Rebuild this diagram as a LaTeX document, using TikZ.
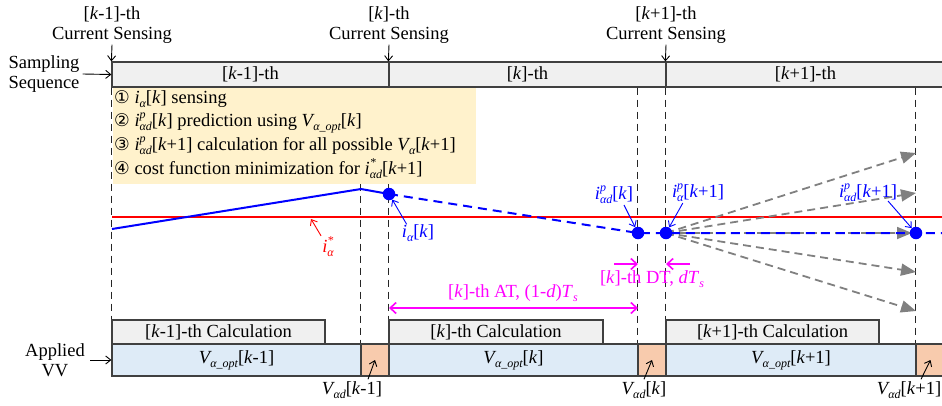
\documentclass[tikz,border=0pt]{standalone}
\usepackage{fontspec}
\setmainfont{Liberation Serif}
\newfontfamily\symfont{DejaVu Sans}
\usetikzlibrary{arrows.meta}
\definecolor{barg}{HTML}{F0F0F0}
\definecolor{yel}{HTML}{FFF2CC}
\definecolor{vvb}{HTML}{DEEBF7}
\definecolor{vvo}{HTML}{F8CBAD}
\definecolor{mag}{HTML}{FF00FF}
\definecolor{edgec}{HTML}{404040}
\definecolor{grayar}{HTML}{808080}
\newcommand\kk{\textit{k}}
\newcommand\smallit{\fontsize{12}{12}\selectfont\itshape}
% base with subscript: \sbs[kern]{base}{sub}
\newcommand\sbs[3][0pt]{\textit{#2}\kern#1\raisebox{-0.22em}{\smallit #3}}
% base with superscript and subscript
\newcommand\ssp[4][0pt]{\textit{#2}\kern#1\rlap{\raisebox{0.42em}{\smallit #3}}\raisebox{-0.22em}{\smallit #4}}
\newcommand\cnum[1]{{\symfont\fontsize{17.5}{17.5}\selectfont #1}}
\tikzset{
  every node/.style={font=\fontsize{18.5}{20}\selectfont, inner sep=1pt},
  sbar/.style={draw=edgec, line width=1.2pt, fill=barg, minimum height=25pt, inner sep=0pt},
  calcbox/.style={draw=edgec, line width=1.2pt, fill=barg, minimum height=24pt, inner sep=0pt},
  vvbox/.style={draw=edgec, line width=1.2pt, fill=vvb, minimum height=32pt, inner sep=0pt},
  adbox/.style={draw=edgec, line width=1.2pt, fill=vvo, minimum height=32pt, minimum width=28pt, inner sep=0pt},
  vdash/.style={dash pattern=on 7pt off 5pt, line width=1.1pt, black!85},
  ptr/.style={-{Straight Barb[length=5pt,width=8pt]}, line width=0.9pt},
  bluelab/.style={text=blue},
  dot/.style={circle, fill=blue, inner sep=0pt, minimum size=12.5pt},
  grayarrow/.style={grayar, line width=1.8pt, dash pattern=on 8pt off 5pt, -{Triangle[length=15pt,width=12pt]}},
  magarrow/.style={mag, line width=1.6pt},
  item/.style={anchor=west, inner sep=0pt},
}
\begin{document}
\begin{tikzpicture}[x=1pt,y=-1pt]
\useasboundingbox (0,0) rectangle (942,405);

% sampling bar
\node[sbar, minimum width=277pt] (s1) at (250.5,74.5) {[\kk-1]-th};
\node[sbar, minimum width=277pt] (s2) at (527.5,74.5) {[\kk]-th};
\node[sbar, minimum width=279pt] (s3) at (805.5,74.5) {[\kk+1]-th};

% calc boxes and VV bar
\node[calcbox, minimum width=213pt] (c1) at (218.5,332) {[\kk-1]-th Calculation};
\node[calcbox, minimum width=214pt] (c2) at (496,332) {[\kk]-th Calculation};
\node[calcbox, minimum width=213pt] (c3) at (772.5,332) {[\kk+1]-th Calculation};
\node[vvbox, minimum width=249pt] (v1) at (236.5,360) {\sbs[-1.5pt]{V}{α\_opt}[\kk-1]};
\node[adbox] (o1) at (375,360) {};
\node[vvbox, minimum width=249pt] (v2) at (513.5,360) {\sbs[-1.5pt]{V}{α\_opt}[\kk]};
\node[adbox] (o2) at (652,360) {};
\node[vvbox, minimum width=250pt] (v3) at (791,360) {\sbs[-1.5pt]{V}{α\_opt}[\kk+1]};
\node[adbox, minimum width=29pt] (o3) at (930.5,360) {};

% dashed verticals
\draw[vdash] (s1.south west) -- (c1.north west);
\draw[vdash] (o1.north west |- s1.south) -- (o1.north west);
\draw[vdash] (s2.south west) -- (c2.north west);
\draw[vdash] (o2.north west |- s2.south) -- (o2.north west);
\draw[vdash] (s3.south west) -- (c3.north west);
\draw[vdash] (o3.north west |- s3.south) -- (o3.north west);

% yellow box
\node[fill=yel, anchor=north west, minimum width=363pt, minimum height=96pt, inner sep=0pt] (ybox) at (112.6,87.6) {};
\node[item] (it1) at (114,99.5) {\cnum{①} \sbs{i}{α}[\kk] sensing};
\node[item] (it2) at (114,123) {\cnum{②} \ssp{i}{p}{αd}[\kk] prediction using \sbs[-1.5pt]{V}{α\_opt}[\kk]};
\node[item] (it3) at (114,146) {\cnum{③} \ssp{i}{p}{αd}[\kk+1] calculation for all possible \sbs[-1.5pt]{V}{α}[\kk+1]};
\node[item] (it4) at (114,169) {\cnum{④} cost function minimization for \ssp{i}{*}{αd}[\kk+1]};

% current sensing labels
\node[align=center] (cs1) at (112,25) {[\kk-1]-th\\Current Sensing};
\node[align=center] (cs2) at (389,25) {[\kk]-th\\Current Sensing};
\node[align=center] (cs3) at (666,25) {[\kk+1]-th\\Current Sensing};
\draw[ptr] (cs1.south) -- (s1.north west);
\draw[ptr] (cs2.south) -- (s2.north west);
\draw[ptr] (cs3.south) -- (s3.north west);

% left labels
\node[align=center] (samp) at (44,74) {Sampling\\Sequence};
\draw[ptr] (samp.east) ++(2,0) -- (s1.west);
\node[align=center] (appl) at (55,360) {Applied\\VV};
\draw[ptr] (appl.east) ++(4,0) -- (v1.west);

% red reference line
\coordinate (r0) at (112,216.5);
\coordinate (r1) at (945,216.5);
\draw[red, line width=2pt] (r0) -- (r1);

% blue current trajectory
\coordinate (p0) at (112,229);
\coordinate (p1) at (361,189);
\coordinate (d1) at (389,194);
\coordinate (d2) at (638,233);
\coordinate (d3) at (666,233);
\coordinate (d4) at (916,233);
\coordinate (pe) at (945,233);
\coordinate (g1) at (916,153);
\coordinate (g2) at (916,193);
\coordinate (g3) at (912,233);
\coordinate (g4) at (916,272);
\coordinate (g5) at (916,311);
\draw[grayarrow] (d3) -- (g1);
\draw[grayarrow] (d3) -- (g2);
\draw[grayarrow] (d3) -- (g3);
\draw[grayarrow] (d3) -- (g4);
\draw[grayarrow] (d3) -- (g5);
\draw[blue, line width=2pt] (p0) -- (p1) -- (d1);
\draw[blue, line width=2pt, dash pattern=on 9pt off 6pt] (d1) -- (d2) -- (d3) -- (pe);
\node[dot] (n1) at (d1) {};
\node[dot] (n2) at (d2) {};
\node[dot] (n3) at (d3) {};
\node[dot] (n4) at (d4) {};

% blue labels
\node[bluelab] (la) at (418,233) {\sbs{i}{α}[\kk]};
\draw[ptr, blue] (la.north west) ++(6,1) -- (n1);
\node[bluelab] (lb) at (614,195) {\ssp{i}{p}{αd}[\kk]};
\draw[ptr, blue] (lb.south) ++(10,0) -- (n2);
\node[bluelab] (lc) at (698,193) {\ssp{i}{p}{α}[\kk+1]};
\draw[ptr, blue] (lc.south west) ++(12,0) -- (n3);
\node[bluelab] (ld) at (868,193) {\ssp{i}{p}{αd}[\kk+1]};
\draw[ptr, blue] (ld.south) ++(20,-2) -- (n4);

% red label
\node[text=red] (le) at (328,247) {\ssp{i}{*}{α}};
\coordinate (rt) at (311,219);
\draw[ptr, red] (le.north west) -- (rt);

% magenta AT / DT
\coordinate (at0) at (389,308);
\coordinate (at1) at (638,308);
\draw[magarrow, {Straight Barb[length=6pt,width=11pt]}-{Straight Barb[length=6pt,width=11pt]}] (at0) -- (at1);
\node[text=mag] (atl) at (513,293) {[\kk]-th AT, (1-\textit{d})\sbs{T}{s}};
\coordinate (dt0) at (614,264);
\coordinate (dt1) at (638,264);
\coordinate (dt2) at (690,264);
\coordinate (dt3) at (666,264);
\draw[magarrow, -{Straight Barb[length=6pt,width=11pt]}] (dt0) -- (dt1);
\draw[magarrow, -{Straight Barb[length=6pt,width=11pt]}] (dt2) -- (dt3);
\node[text=mag] (dtl) at (652,279) {[\kk]-th DT, \textit{d}\sbs{T}{s}};

% Vad labels
\node (va1) at (352,390) {\sbs[-1.5pt]{V}{αd}[\kk-1]};
\draw[ptr] (va1.north) ++(16,-1) -- (o1.center);
\node (va2) at (644,390) {\sbs[-1.5pt]{V}{αd}[\kk]};
\draw[ptr] (va2.north) ++(0,-1) -- (o2.center);
\node (va3) at (909,390) {\sbs[-1.5pt]{V}{αd}[\kk+1]};
\draw[ptr] (va3.north) ++(12,-1) -- (o3.center);
\end{tikzpicture}
\end{document}
